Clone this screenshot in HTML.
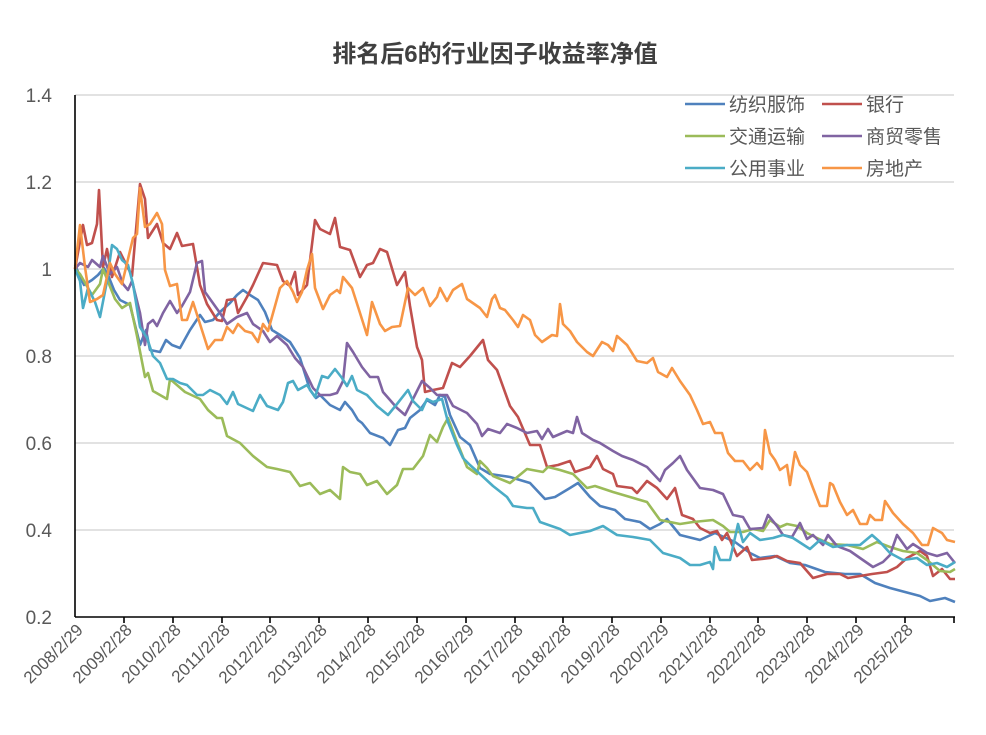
<!DOCTYPE html>
<html><head><meta charset="utf-8"><style>
html,body{margin:0;padding:0;background:#fff;}
svg text{font-family:"Liberation Sans","Noto Sans CJK SC",sans-serif;}
</style></head><body>
<svg width="986" height="730" viewBox="0 0 986 730" xmlns="http://www.w3.org/2000/svg">
<rect width="986" height="730" fill="#fff"/>
<text x="495" y="62" text-anchor="middle" font-size="24" font-weight="bold" fill="#404040">排名后6的行业因子收益率净值</text>
<g stroke="#d9d9d9" stroke-width="1.5">
<line x1="75" y1="95" x2="954" y2="95"/><line x1="75" y1="182" x2="954" y2="182"/><line x1="75" y1="269" x2="954" y2="269"/><line x1="75" y1="356" x2="954" y2="356"/><line x1="75" y1="443" x2="954" y2="443"/><line x1="75" y1="530" x2="954" y2="530"/>
</g>
<g font-size="19" fill="#595959" text-anchor="end">
<text x="52" y="102">1.4</text><text x="52" y="189">1.2</text><text x="52" y="276">1</text><text x="52" y="363">0.8</text><text x="52" y="450">0.6</text><text x="52" y="537">0.4</text><text x="52" y="624">0.2</text>
</g>
<g fill="none" stroke-width="2.6" stroke-linejoin="round">
<polyline stroke="#4F81BD" points="75,265 84,285 92,280 98,275 104,268 108,275 114,290 120,300 124,302 130,305 140,345 146,330 150,350 160,352 166,340 172,345 180,348 190,330 200,315 205,322 213,320 220,312 230,303 237,295 243,290 250,295 258,300 265,312 272,330 280,335 290,342 300,358 310,390 316,398 320,395 330,405 340,410 345,402 352,410 358,420 362,423 370,433 383,438 390,445 398,430 405,428 410,418 420,410 427,400 435,405 440,395 445,397 450,415 460,437 470,445 480,468 490,474 510,477 530,483 545,499 555,497 570,488 578,483 590,497 600,506 615,510 625,519 640,522 650,529 660,524 667,519 680,535 700,540 715,533 735,542 750,553 760,558 775,556 790,563 805,565 825,572 845,574 860,574 875,583 890,588 905,592 920,596 930,601 945,598 955,602"/>
<polyline stroke="#C0504D" points="75,269 83,225 87,245 92,243 97,224 99,190 103,267 107,249 112,277 120,252 132,276 140,184 145,199 148,238 157,224 163,243 170,249 177,233 182,246 193,244 200,285 207,304 217,320 222,321 227,300 235,299 238,313 247,297 253,285 263,263 277,265 283,281 290,286 295,272 298,295 307,285 315,220 320,229 330,234 335,218 340,247 350,250 360,277 367,265 373,263 380,249 387,252 397,285 405,272 410,306 417,347 422,360 425,392 433,390 443,388 452,363 460,367 470,356 483,340 488,360 497,370 510,406 518,417 530,445 540,445 547,467 558,465 570,461 575,472 590,467 597,456 603,469 613,474 617,486 632,488 637,493 647,481 657,488 667,499 675,488 682,515 693,519 700,528 710,533 717,531 722,540 727,533 737,556 747,547 752,560 770,558 777,556 787,561 800,563 813,578 827,574 840,574 848,578 860,576 872,574 887,572 897,567 907,558 920,551 927,556 933,576 942,569 950,579 955,579"/>
<polyline stroke="#9BBB59" points="75,269 80,274 92,295 100,284 103,269 115,299 122,308 130,303 137,336 145,377 148,373 153,391 160,395 167,399 170,379 185,392 200,399 208,410 217,418 222,418 227,436 240,443 253,456 267,467 277,469 290,472 300,486 310,483 320,494 330,490 340,499 343,467 350,472 360,474 367,485 377,481 387,494 397,485 403,469 413,469 423,456 430,435 437,442 443,427 448,418 457,442 467,467 477,474 480,461 487,468 493,476 510,483 527,469 543,472 548,467 560,470 573,474 587,488 595,486 613,492 630,497 647,502 660,520 680,524 693,522 713,520 723,526 730,532 743,532 753,529 763,531 770,520 780,527 787,524 797,526 807,533 817,538 830,544 847,545 863,549 877,542 890,547 903,551 917,553 927,560 940,571 950,572 955,569"/>
<polyline stroke="#8064A2" points="75,269 80,263 88,267 92,260 100,267 103,256 110,274 117,267 123,284 128,290 132,281 140,313 145,345 148,324 153,320 157,326 163,313 170,301 177,313 182,306 190,292 197,263 202,261 205,292 210,299 220,313 227,324 237,317 247,313 253,324 263,331 270,342 277,336 287,345 295,358 303,367 313,388 320,395 330,395 337,393 343,381 347,343 353,352 362,367 370,377 378,377 383,392 397,408 405,415 413,399 422,381 430,388 437,395 447,395 453,406 467,413 477,424 482,436 488,429 500,433 507,424 517,428 527,433 537,431 542,439 548,429 553,437 567,431 573,433 577,417 582,433 593,440 600,443 613,451 622,456 633,460 647,467 660,481 665,470 673,463 680,456 687,470 700,488 713,490 723,494 733,515 743,517 750,529 763,528 768,515 777,526 783,535 792,537 800,523 807,539 813,535 823,545 828,535 837,546 850,551 860,558 873,567 883,562 890,555 897,535 907,549 913,544 927,553 937,556 947,553 955,563"/>
<polyline stroke="#4BACC6" points="75,269 80,281 83,308 88,288 95,302 100,317 107,281 112,245 117,249 122,260 128,265 133,284 140,327 147,338 153,356 160,363 167,379 173,379 180,383 187,385 197,395 203,395 210,390 220,395 227,404 233,392 238,404 253,411 260,395 267,406 278,410 283,402 288,383 293,381 298,390 307,385 315,397 322,376 328,378 335,369 342,378 347,386 352,376 357,390 367,395 377,406 388,415 397,404 408,390 413,401 422,410 427,399 433,402 442,399 448,422 457,445 463,458 470,465 480,474 493,486 507,497 513,506 527,508 533,508 540,522 560,529 570,535 580,533 590,531 603,526 617,535 633,537 650,540 663,553 680,558 690,565 700,565 710,562 713,569 715,547 720,560 730,560 738,524 743,542 750,533 760,540 773,538 783,535 793,538 810,549 820,540 833,547 847,545 860,545 872,535 880,542 890,553 903,560 917,558 927,565 937,563 947,567 955,562"/>
<polyline stroke="#F79646" points="75,269 80,225 85,267 90,302 97,299 103,295 110,263 115,274 122,284 128,259 133,238 137,234 140,188 145,227 150,224 157,213 162,224 165,270 170,286 177,284 182,320 187,320 193,302 200,324 208,349 215,340 222,340 227,327 233,333 238,324 245,331 252,333 258,342 263,324 268,331 275,306 280,288 287,281 293,292 297,302 302,292 307,270 312,254 315,288 323,309 330,295 337,290 340,293 343,277 352,288 360,313 367,335 372,302 380,324 385,331 392,327 400,326 408,288 415,295 423,288 430,306 437,297 440,288 447,301 453,290 462,284 467,299 480,308 487,317 492,299 495,295 500,308 505,310 513,320 518,327 523,315 530,320 535,335 542,342 552,335 557,336 560,304 563,324 570,331 577,342 582,347 587,352 593,356 602,342 608,345 613,351 617,336 627,345 637,361 647,363 653,358 658,372 667,377 672,368 680,381 690,395 697,410 703,424 710,422 715,433 722,433 728,453 735,461 743,461 750,470 757,463 762,469 765,430 770,453 775,460 780,470 787,465 790,485 795,452 800,465 807,472 813,488 820,506 827,506 830,483 833,485 840,502 847,515 853,510 860,524 867,524 870,515 875,520 882,520 885,501 893,513 903,524 913,533 922,545 928,545 933,528 942,533 947,540 955,542"/>
</g>
<g stroke="#000" stroke-width="1.6">
<line x1="75" y1="95" x2="75" y2="617"/>
<line x1="75" y1="617" x2="955" y2="617"/>
<line x1="124" y1="617" x2="124" y2="623"/><line x1="173" y1="617" x2="173" y2="623"/><line x1="222" y1="617" x2="222" y2="623"/><line x1="270" y1="617" x2="270" y2="623"/><line x1="319" y1="617" x2="319" y2="623"/><line x1="368" y1="617" x2="368" y2="623"/><line x1="417" y1="617" x2="417" y2="623"/><line x1="466" y1="617" x2="466" y2="623"/><line x1="515" y1="617" x2="515" y2="623"/><line x1="563" y1="617" x2="563" y2="623"/><line x1="612" y1="617" x2="612" y2="623"/><line x1="661" y1="617" x2="661" y2="623"/><line x1="710" y1="617" x2="710" y2="623"/><line x1="758" y1="617" x2="758" y2="623"/><line x1="807" y1="617" x2="807" y2="623"/><line x1="856" y1="617" x2="856" y2="623"/><line x1="905" y1="617" x2="905" y2="623"/><line x1="954" y1="617" x2="954" y2="623"/>
</g>
<g font-size="17" fill="#595959" text-anchor="end">
<text transform="translate(84,631) rotate(-45)">2008/2/29</text>
<text transform="translate(133,631) rotate(-45)">2009/2/28</text>
<text transform="translate(182,631) rotate(-45)">2010/2/28</text>
<text transform="translate(231,631) rotate(-45)">2011/2/28</text>
<text transform="translate(279,631) rotate(-45)">2012/2/29</text>
<text transform="translate(328,631) rotate(-45)">2013/2/28</text>
<text transform="translate(377,631) rotate(-45)">2014/2/28</text>
<text transform="translate(426,631) rotate(-45)">2015/2/28</text>
<text transform="translate(475,631) rotate(-45)">2016/2/29</text>
<text transform="translate(524,631) rotate(-45)">2017/2/28</text>
<text transform="translate(572,631) rotate(-45)">2018/2/28</text>
<text transform="translate(621,631) rotate(-45)">2019/2/28</text>
<text transform="translate(670,631) rotate(-45)">2020/2/29</text>
<text transform="translate(719,631) rotate(-45)">2021/2/28</text>
<text transform="translate(767,631) rotate(-45)">2022/2/28</text>
<text transform="translate(816,631) rotate(-45)">2023/2/28</text>
<text transform="translate(865,631) rotate(-45)">2024/2/29</text>
<text transform="translate(914,631) rotate(-45)">2025/2/28</text>
</g>
<g stroke-width="2.6">
<line x1="685" y1="104" x2="725" y2="104" stroke="#4F81BD"/>
<line x1="822" y1="104" x2="862" y2="104" stroke="#C0504D"/>
<line x1="685" y1="136" x2="725" y2="136" stroke="#9BBB59"/>
<line x1="822" y1="136" x2="862" y2="136" stroke="#8064A2"/>
<line x1="685" y1="168" x2="725" y2="168" stroke="#4BACC6"/>
<line x1="822" y1="168" x2="862" y2="168" stroke="#F79646"/>
</g>
<g font-size="19" fill="#595959">
<text x="729" y="111">纺织服饰</text><text x="866" y="111">银行</text>
<text x="729" y="143">交通运输</text><text x="866" y="143">商贸零售</text>
<text x="729" y="175">公用事业</text><text x="866" y="175">房地产</text>
</g>
</svg>
</body></html>
